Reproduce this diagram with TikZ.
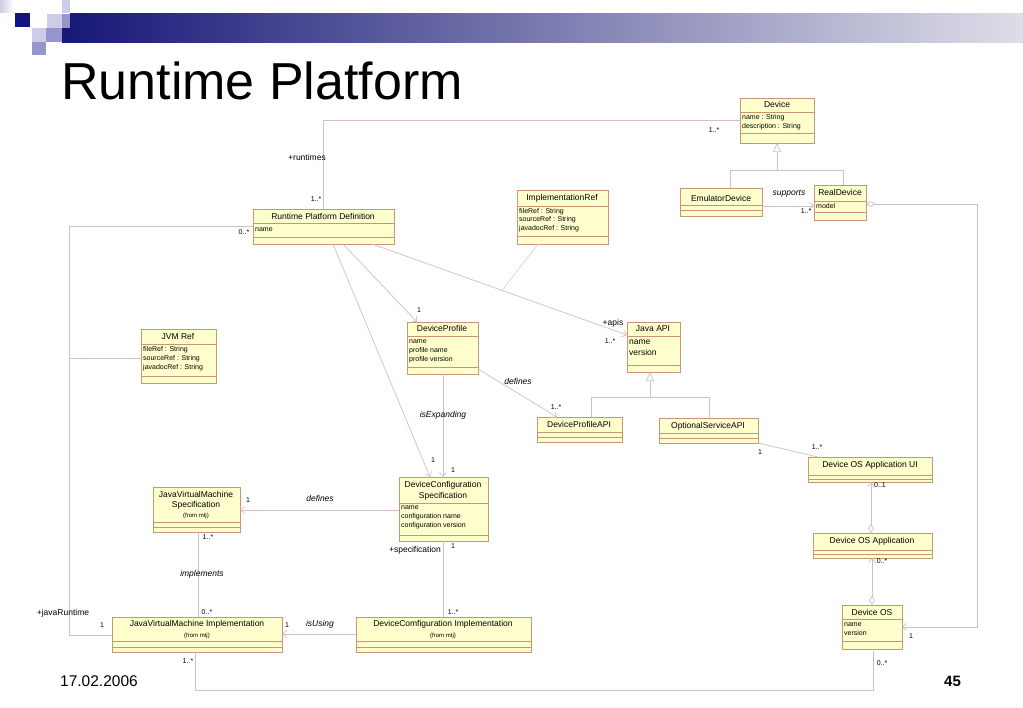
\documentclass[tikz,border=0pt]{standalone}
\usepackage{fontspec}
\setmainfont{Liberation Sans}
\usetikzlibrary{arrows.meta,calc}
\definecolor{clsfill}{RGB}{255,255,206}
\definecolor{clsdraw}{RGB}{200,150,115}
\definecolor{conncol}{RGB}{214,188,198}
\definecolor{hdrL}{RGB}{24,24,120}
\definecolor{hdrM}{RGB}{140,140,180}
\definecolor{hdrR}{RGB}{222,222,232}
\definecolor{sqdark}{RGB}{20,20,130}
\definecolor{sqmid}{RGB}{150,150,204}
\definecolor{sqlight}{RGB}{205,205,232}
\definecolor{sqpale}{RGB}{228,228,242}
\newcommand\umlbox[7]{%
  \node[cls, minimum width={(#4-#2)*1pt}, minimum height={(#5-#3)*1pt}] (#1) at (#2,#3) {};
  \draw[divline] (#1.west |- 0,#6) -- (#1.east |- 0,#6);
  \draw[divline] (#1.west |- 0,#7) -- (#1.east |- 0,#7);
}
\tikzset{
  cls/.style={draw=clsdraw, fill=clsfill, line width=0.8pt, inner sep=0pt, outer sep=0pt, anchor=north west},
  divline/.style={draw=clsdraw, line width=0.6pt},
  conn/.style={draw=conncol, line width=0.7pt},
  ttl/.style={font=\fontsize{8.5}{10}\selectfont, inner sep=0pt, anchor=mid},
  attr/.style={font=\fontsize{7}{8}\selectfont, inner sep=0pt, anchor=mid west},
  bigattr/.style={font=\fontsize{8.5}{10}\selectfont, inner sep=0pt, anchor=mid west},
  fromtxt/.style={font=\fontsize{6}{7}\selectfont, inner sep=0pt, anchor=mid},
  mult/.style={font=\fontsize{7}{8}\selectfont, inner sep=0pt, anchor=mid},
  lbl/.style={font=\fontsize{8.5}{10}\selectfont, inner sep=0pt, anchor=mid},
  ilbl/.style={font=\fontsize{8.5}{10}\selectfont\itshape, inner sep=0pt, anchor=mid},
  openarrow/.style={-{Straight Barb[length=4pt,width=7pt]}},
  gentip/.style={-{Triangle[length=9pt,width=8pt,fill=white]}},
  aggarrow/.style={{Diamond[length=9pt,width=6pt,fill=white]}-{Straight Barb[length=4pt,width=7pt]}},
}
\begin{document}
\begin{tikzpicture}[x=1pt,y=-1pt]
\useasboundingbox (0,0) rectangle (1023,708);
\fill[white] (0,0) rectangle (1023,708);
% header
\shade[left color=hdrL, middle color=hdrM, right color=hdrR] (70,14) rectangle (1023,43);
\shade[left color=sqlight, right color=white] (0,0) rectangle (14,13);
\fill[sqdark] (15,13) rectangle (30,27);
\fill[sqlight] (62,0) rectangle (70,13);
\fill[sqlight] (47,14) rectangle (62,28);
\fill[sqmid] (62,14) rectangle (70,28);
\fill[sqlight] (32,28) rectangle (46,42);
\fill[sqmid] (46,28) rectangle (62,42);
\fill[hdrL] (62,28) rectangle (70,43);
\fill[sqmid] (32,42) rectangle (46,55);
\node[font=\fontsize{52}{58}\selectfont, inner sep=0pt, anchor=base west] (title) at (61,100) {Runtime Platform};
\node[font=\fontsize{15.5}{18}\selectfont, inner sep=0pt, anchor=base west] (date) at (60,686) {17.02.2006};
\node[font=\fontsize{15}{18}\selectfont\bfseries, inner sep=0pt, anchor=base west] (pagenum) at (944,686) {45};

% class boxes
\umlbox{device}{740}{98}{814}{143}{112}{133}
\umlbox{emu}{680}{188}{762}{216}{205}{210}
\umlbox{real}{814}{185}{866}{220}{201}{212}
\umlbox{rpd}{253}{209}{394}{244}{223}{237}
\umlbox{implref}{517}{190}{608}{244}{206}{236}
\umlbox{jvmref}{141}{329}{216}{383}{344}{376}
\umlbox{dprof}{407}{322}{478}{374}{336}{367}
\umlbox{javaapi}{627}{322}{680}{372}{336}{365}
\umlbox{dpapi}{537}{417}{622}{442}{432}{437}
\umlbox{osapi}{659}{418}{758}{443}{433}{438}
\umlbox{dcs}{399}{477}{488}{541}{503}{535}
\umlbox{jvmspec}{153}{487}{240}{532}{522}{527}
\umlbox{jvmimpl}{112}{617}{282}{652}{641}{647}
\umlbox{dci}{356}{617}{531}{652}{641}{647}
\umlbox{dosui}{808}{457}{932}{482}{475}{479}
\umlbox{dosapp}{813}{533}{932}{558}{550}{554}
\umlbox{devos}{842}{605}{902}{649}{619}{641}

% box texts
\node[ttl] (deviceT) at (777,105) {Device};
\node[attr] (deviceA1) at (742,117) {name : String};
\node[attr] (deviceA2) at (742,126) {description : String};
\node[ttl] (emuT) at (721,199) {EmulatorDevice};
\node[ttl] (realT) at (840,193) {RealDevice};
\node[attr] (realA1) at (816,206) {model};
\node[ttl] (rpdT) at (323,217) {Runtime Platform Definition};
\node[attr] (rpdA1) at (255,229) {name};
\node[ttl] (implrefT) at (562,198) {ImplementationRef};
\node[attr] (implrefA1) at (519,211) {fileRef : String};
\node[attr] (implrefA2) at (519,219) {sourceRef : String};
\node[attr] (implrefA3) at (519,228) {javadocRef : String};
\node[ttl] (jvmrefT) at (178,337) {JVM Ref};
\node[attr] (jvmrefA1) at (143,349) {fileRef : String};
\node[attr] (jvmrefA2) at (143,358) {sourceRef : String};
\node[attr] (jvmrefA3) at (143,367) {javadocRef : String};
\node[ttl] (dprofT) at (442,329) {DeviceProfile};
\node[attr] (dprofA1) at (409,341) {name};
\node[attr] (dprofA2) at (409,350) {profile name};
\node[attr] (dprofA3) at (409,359) {profile version};
\node[ttl] (javaapiT) at (653,329) {Java API};
\node[bigattr] (javaapiA1) at (629,342) {name};
\node[bigattr] (javaapiA2) at (629,353) {version};
\node[ttl] (dpapiT) at (579,425) {DeviceProfileAPI};
\node[ttl] (osapiT) at (708,426) {OptionalServiceAPI};
\node[ttl] (dcsT1) at (443,485) {DeviceConfiguration};
\node[ttl] (dcsT2) at (443,496) {Specification};
\node[attr] (dcsA1) at (401,507) {name};
\node[attr] (dcsA2) at (401,516) {configuration name};
\node[attr] (dcsA3) at (401,525) {configuration version};
\node[ttl] (jvmspecT1) at (196,495) {JavaVirtualMachine};
\node[ttl] (jvmspecT2) at (196,505) {Specification};
\node[fromtxt] (jvmspecF) at (196,515) {(from mtj)};
\node[ttl] (jvmimplT) at (197,624) {JavaVirtualMachine Implementation};
\node[fromtxt] (jvmimplF) at (197,635) {(from mtj)};
\node[ttl] (dciT) at (443,624) {DeviceComfiguration Implementation};
\node[fromtxt] (dciF) at (443,635) {(from mtj)};
\node[ttl] (dosuiT) at (870,465) {Device OS Application UI};
\node[ttl] (dosappT) at (872,541) {Device OS Application};
\node[ttl] (devosT) at (872,613) {Device OS};
\node[attr] (devosA1) at (844,624) {name};
\node[attr] (devosA2) at (844,633) {version};

% connectors
\draw[conn] (rpd.north -| 323,0) -- (323,120) -- (device.west |- 0,120);
\coordinate (genA) at (777,170);
\draw[conn] (emu.north -| 730,0) -- (730,170) -- (843,170) -- (real.north -| 843,0);
\draw[conn,gentip] (genA) -- (device.south -| 777,0);
\draw[conn,openarrow] (emu.east |- 0,206) -- (real.west |- 0,206);
\draw[conn,aggarrow] (real.east |- 0,204) -- (977,204) -- (977,627) -- (devos.east |- 0,627);
\draw[conn,openarrow] (rpd.south -| 343,0) -- (dprof.north -| 417,0);
\draw[conn,openarrow] (rpd.south -| 372,0) -- coordinate[pos=0.51] (assoc) (javaapi.west |- 0,335);
\draw[conn, draw=conncol!70] (implref.south -| 538,0) -- (assoc);
\draw[conn,openarrow] (rpd.south -| 333,0) -- (dcs.north -| 430,0);
\draw[conn,openarrow] (dprof.south -| 443,0) -- (dcs.north -| 443,0);
\draw[conn,openarrow] (dprof.east |- 0,369) -- (dpapi.north -| 557,0);
\coordinate (genB) at (650,397);
\draw[conn] (dpapi.north -| 591,0) -- (591,397) -- (709,397) -- (osapi.north -| 709,0);
\draw[conn,gentip] (genB) -- (javaapi.south -| 650,0);
\draw[conn] (osapi.south east) -- (dosui.north -| 818,0);
\draw[conn,aggarrow] (dosapp.north -| 871,0) -- (dosui.south -| 871,0);
\draw[conn,aggarrow] (devos.north -| 872,0) -- (dosapp.south -| 872,0);
\draw[conn,openarrow] (dcs.west |- 0,510) -- (jvmspec.east |- 0,510);
\draw[conn] (jvmspec.south -| 198,0) -- (jvmimpl.north -| 198,0);
\draw[conn] (dcs.south -| 443,0) -- (dci.north -| 443,0);
\draw[conn,openarrow] (dci.west |- 0,634) -- (jvmimpl.east |- 0,634);
\coordinate (jvmtap) at (69,358);
\draw[conn] (rpd.west |- 0,226) -- (69,226) -- (69,635) -- (jvmimpl.west |- 0,635);
\draw[conn] (jvmref.west |- 0,358) -- (jvmtap);
\draw[conn] (jvmimpl.south -| 195,0) -- (195,690) -- (873,690) -- (devos.south -| 873,0);

% labels
\node[mult] (m1) at (714,130) {1..*};
\node[lbl] (l1) at (307,158) {+runtimes};
\node[mult] (m2) at (316,199) {1..*};
\node[mult] (m3) at (244,232) {0..*};
\node[ilbl] (l2) at (789,193) {supports};
\node[mult] (m4) at (806,211) {1..*};
\node[mult] (m5) at (419,310) {1};
\node[lbl] (l3) at (613,323) {+apis};
\node[mult] (m6) at (610,341) {1..*};
\node[ilbl] (l4) at (518,382) {defines};
\node[mult] (m7) at (556,407) {1..*};
\node[ilbl] (l5) at (443,415) {isExpanding};
\node[mult] (m8) at (433,460) {1};
\node[mult] (m9) at (453,470) {1};
\node[mult] (m10) at (248,500) {1};
\node[ilbl] (l6) at (320,499) {defines};
\node[mult] (m11) at (208,537) {1..*};
\node[lbl] (l7) at (415,550) {+specification};
\node[mult] (m12) at (453,546) {1};
\node[ilbl] (l8) at (202,574) {implements};
\node[mult] (m13) at (207,612) {0..*};
\node[mult] (m14) at (453,612) {1..*};
\node[lbl] (l9) at (63,613) {+javaRuntime};
\node[mult] (m15) at (102,625) {1};
\node[mult] (m16) at (287,625) {1};
\node[ilbl] (l10) at (320,624) {isUsing};
\node[mult] (m17) at (188,661) {1..*};
\node[mult] (m18) at (817,447) {1..*};
\node[mult] (m19) at (760,452) {1};
\node[mult] (m20) at (880,485) {0..1};
\node[mult] (m21) at (882,561) {0..*};
\node[mult] (m22) at (911,636) {1};
\node[mult] (m23) at (882,663) {0..*};
\end{tikzpicture}
\end{document}
